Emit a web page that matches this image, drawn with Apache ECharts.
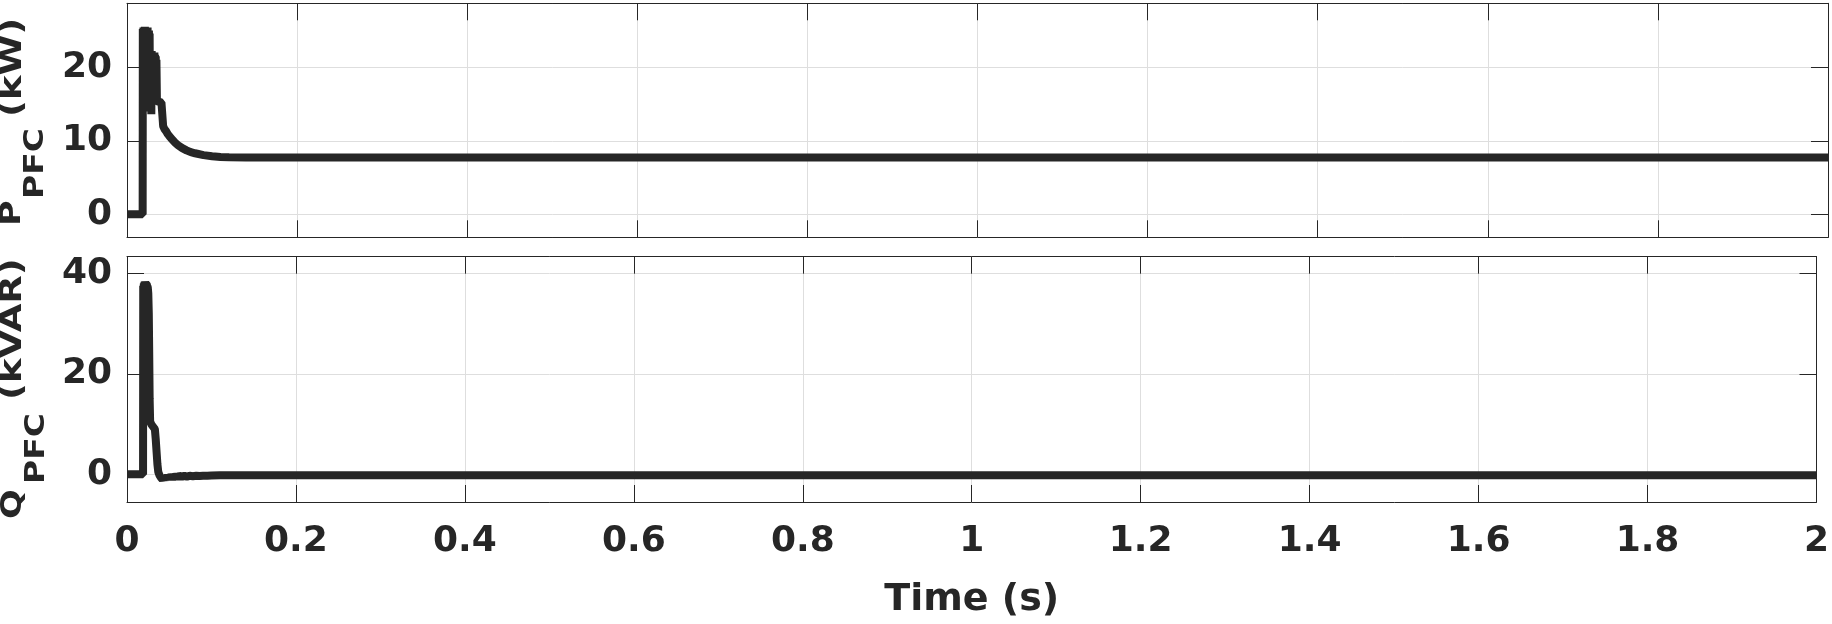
<!DOCTYPE html>
<html><head><meta charset="utf-8">
<script src="https://cdn.jsdelivr.net/npm/echarts@6/dist/echarts.min.js"></script>
<style>html,body{margin:0;padding:0;background:#fff}#c{width:1832px;height:624px}</style>
</head><body><div id="c"></div>
<script>
// ---- data ----
const pTime = [0, 0.0184,
  0.0186, 0.0190, 0.0194, 0.0198, 0.0202, 0.0206, 0.0210, 0.0214, 0.0218, 0.0222, 0.0226,
  0.0230, 0.0234, 0.0238, 0.0242, 0.0246, 0.0250, 0.0254, 0.0258, 0.0262, 0.0266, 0.0270,
  0.0274, 0.0278, 0.0282, 0.0286, 0.0290, 0.0294, 0.0298, 0.0302, 0.0306, 0.0310, 0.0314,
  0.0318, 0.0322, 0.0326, 0.0330, 0.0334, 0.0338, 0.0342, 0.0346,
  0.0352, 0.0380, 0.0405, 0.0425, 0.0440, 0.0460, 0.0480, 0.0500, 0.0530, 0.0560, 0.0600,
  0.0650, 0.0700, 0.0750, 0.0800, 0.0900, 0.1000, 0.1100, 0.1200, 0.1400, 0.1700, 0.2500,
  0.5000, 1.0000, 1.5000, 2.0000];
const pValue = [0, 0,
  25.2, 14.5, 25.4, 14.2, 25.0, 14.6, 25.5, 14.0, 25.1, 14.8, 25.3,
  14.3, 25.0, 14.9, 25.4, 14.5, 24.8, 15.0, 25.0, 14.6, 24.6, 15.2,
  22.0, 15.8, 21.8, 13.6, 22.2, 16.0, 21.9, 15.9, 22.0, 16.1, 21.8,
  15.8, 22.0, 16.0, 21.7, 16.0, 21.5, 15.9, 21.0,
  15.4, 15.3, 15.2, 12.0, 11.6, 11.3, 10.9, 10.6, 10.2, 9.8, 9.4,
  9.0, 8.7, 8.45, 8.3, 8.05, 7.9, 7.8, 7.76, 7.74, 7.73, 7.73,
  7.73, 7.73, 7.73, 7.73];

const qTime = [0, 0.0190, 0.0192, 0.0196, 0.0200, 0.0204, 0.0208, 0.0212, 0.0216, 0.0220,
  0.0224, 0.0228, 0.0232, 0.0236, 0.0240, 0.0246, 0.0252, 0.0258, 0.0263, 0.0268,
  0.0274, 0.0290, 0.0310, 0.0330, 0.0340, 0.0350, 0.0360, 0.0370, 0.0385, 0.0400,
  0.0420, 0.0440, 0.0460, 0.0480, 0.0500, 0.0520, 0.0545, 0.0570, 0.0595, 0.0620,
  0.0650, 0.0680, 0.0710, 0.0740, 0.0780, 0.0820, 0.0860, 0.0900, 0.0950, 0.1000,
  0.1100, 0.1300, 0.2000, 0.5000, 1.0000, 1.5000, 2.0000];
const qValue = [0, 0, 37.5, 36.4, 38.0, 36.8, 38.3, 37.0, 38.4, 37.3,
  38.2, 37.5, 38.0, 37.6, 37.8, 37.2, 36.0, 32.0, 24.0, 15.0,
  10.5, 9.9, 9.6, 9.0, 7.0, 4.5, 2.0, 0.5, -0.2, -0.6,
  -1.0, -0.5, -0.9, -0.4, -0.8, -0.3, -0.7, -0.3, -0.6, -0.3,
  -0.5, -0.3, -0.45, -0.3, -0.4, -0.3, -0.35, -0.3, -0.3, -0.25,
  -0.2, -0.2, -0.2, -0.2, -0.2, -0.2, -0.2];

const pTicks = [0, 10, 20];
const qTicks = [0, 20, 40];
const xLabel = 'Time (s)';

// ---- chart ----
const INK = '#262626';
const FONT = 'DejaVu Sans';
const zip = (a, b) => a.map((t, i) => [t, b[i]]);

const axisLine = { show: true, onZero: false, lineStyle: { color: INK, width: 1 } };
const tick = { show: true, inside: true, length: 17, lineStyle: { color: INK, width: 1 } };
const grid = { show: true, lineStyle: { color: '#dedede', width: 1 } };
const lbl = { color: INK, fontFamily: FONT, fontWeight: 'bold', fontSize: 36 };

function xAx(gi, pos, labels) {
  const o = {
    gridIndex: gi, type: 'value', min: 0, max: 2, interval: 0.2, position: pos,
    axisLine, axisTick: tick,
    axisLabel: labels ? Object.assign({ margin: 22, showMinLabel: true, showMaxLabel: true }, lbl) : { show: false },
    splitLine: pos === 'bottom' ? grid : { show: false }
  };
  if (labels) {
    o.name = xLabel; o.nameLocation = 'middle'; o.nameGap = 79;
    o.nameTextStyle = Object.assign({}, lbl, { fontSize: 38 });
  }
  return o;
}
function yAx(gi, pos, min, max, ticks) {
  return {
    gridIndex: gi, type: 'value', min, max, position: pos,
    axisLine, axisTick: Object.assign({ customValues: ticks }, tick),
    axisLabel: pos === 'left' ? Object.assign({ customValues: ticks, margin: 15 }, lbl) : { show: false },
    splitLine: pos === 'left' ? grid : { show: false }
  };
}

const lineStyle = { color: INK, width: 8 };
function yText(text, x, y, size) {
  return {
    type: 'text', x, y, rotation: Math.PI / 2, scaleY: 0.8, z: 10,
    style: { text, fill: INK, font: 'bold ' + size + 'px "' + FONT + '"', align: 'left', verticalAlign: 'middle' }
  };
}

const option = {
  animation: false,
  backgroundColor: '#fff',
  grid: [
    { left: 127, top: 3.3, width: 1701, height: 234 },
    { left: 127, top: 256.7, width: 1701, height: 245.3 }
  ],
  xAxis: [xAx(0, 'bottom', false), xAx(0, 'top', false), xAx(1, 'bottom', true), xAx(1, 'top', false)],
  yAxis: [
    yAx(0, 'left', -3.13, 28.7, pTicks), yAx(0, 'right', -3.13, 28.7, pTicks),
    yAx(1, 'left', -5.51, 43.3, qTicks), yAx(1, 'right', -5.51, 43.3, qTicks)
  ],
  series: [
    { type: 'line', xAxisIndex: 0, yAxisIndex: 0, data: zip(pTime, pValue), showSymbol: false, symbol: 'none', lineStyle },
    { type: 'line', xAxisIndex: 2, yAxisIndex: 2, data: zip(qTime, qValue), showSymbol: false, symbol: 'none', lineStyle }
  ],
  graphic: [
    yText('P', 13, 226, 35), yText('PFC', 36, 199, 33), yText('(kW)', 13, 117, 37),
    yText('Q', 14, 519, 35), yText('PFC', 37, 484, 33), yText('(kVAR)', 13, 400, 37)
  ]
};
const chart = echarts.init(document.getElementById('c'), null, { renderer: 'canvas' });
chart.setOption(option);
</script>
</body></html>
